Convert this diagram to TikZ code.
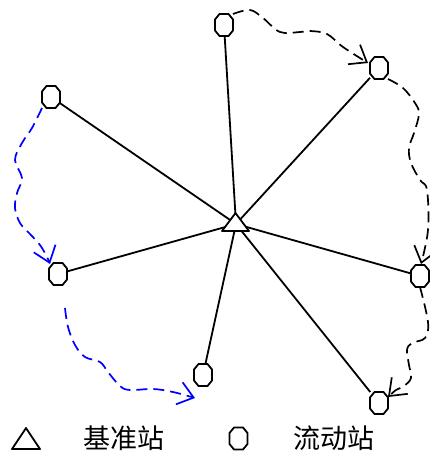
\documentclass[tikz,border=0pt]{standalone}
\usepackage{fontspec}
\newfontfamily\cjk{Noto Sans CJK SC}
\usetikzlibrary{arrows.meta}
\newcommand\octdraw[1]{\draw[line width=1.8pt,fill=white,line join=round]
  ([xshift=-4.5pt]#1.north) -- ([xshift=4.5pt]#1.north) -- ([yshift=-5.5pt]#1.north east) --
  ([yshift=5.5pt]#1.south east) -- ([xshift=4.5pt]#1.south) -- ([xshift=-4.5pt]#1.south) --
  ([yshift=5.5pt]#1.south west) -- ([yshift=-5.5pt]#1.north west) -- cycle;}
\begin{document}
\begin{tikzpicture}[x=1pt,y=-1pt,
  rover/.style={rectangle,minimum width=18pt,minimum height=22pt,inner sep=0pt,outer sep=0pt},
  link/.style={line width=1.8pt},
  move/.style={line width=1.7pt,dash pattern=on 11pt off 6pt,-{Straight Barb[length=15pt,width=23pt,line width=1.7pt]}},
  lbl/.style={font=\cjk\fontsize{27pt}{30pt}\selectfont,inner sep=0pt}]
\useasboundingbox (0,0) rectangle (429,453);
\coordinate (base) at (236,224);
\node[rover] (r1) at (224,25) {};
\node[rover] (r2) at (379,68) {};
\node[rover] (r3) at (420,276) {};
\node[rover] (r4) at (379,403) {};
\node[rover] (r5) at (203,375) {};
\node[rover] (r6) at (58,274) {};
\node[rover] (r7) at (51,97) {};
\foreach \r in {r1,r2,r3,r4,r5,r6,r7} \draw[link] (base) -- (\r);
\foreach \r in {r1,r2,r3,r4,r5,r6,r7} {\octdraw{\r}}
\draw[line width=1.8pt,fill=white,line join=round] (222,231) -- (235.5,213) -- (249,231) -- cycle;
% dashed moves
\draw[move] plot[smooth,tension=0.6] coordinates {(r1.north east) (250,10) (263,18) (280,32) (300,32) (310,31) (327,34) (343,47) (368,63)};
\draw[move] plot[smooth,tension=0.6] coordinates {(r2.south east) (403,88) (415,103) (419,114) (414,133) (409,148) (411,163) (420,180) (427,190) (428,230) (421,264)};
\draw[move] plot[smooth,tension=0.6] coordinates {(r3.south) (428,322) (425,338) (412,343) (407,350) (409,365) (411,378) (404,386) (396,390) (388,397)};
\draw[move,blue] plot[smooth,tension=0.6] coordinates {(r7.south west) (32,128) (22,143) (15,160) (22,178) (17,193) (15,208) (20,223) (30,234) (40,245) (47,257) (50,264)};
\draw[move,blue] plot[smooth,tension=0.6] coordinates {(65,308) (68,327) (75,345) (85,357) (100,362) (108,372) (120,386) (130,390) (153,389) (173,392) (195,398)};
% legend
\draw[line width=1.8pt,line join=round] (12,449) -- (26,428) -- (40,449) -- cycle;
\node[lbl] (t1) at (124,438) {基准站};
\node[rover] (lg) at (238.5,438.5) {};
\octdraw{lg}
\node[lbl] (t2) at (334,438) {流动站};
\end{tikzpicture}
\end{document}
